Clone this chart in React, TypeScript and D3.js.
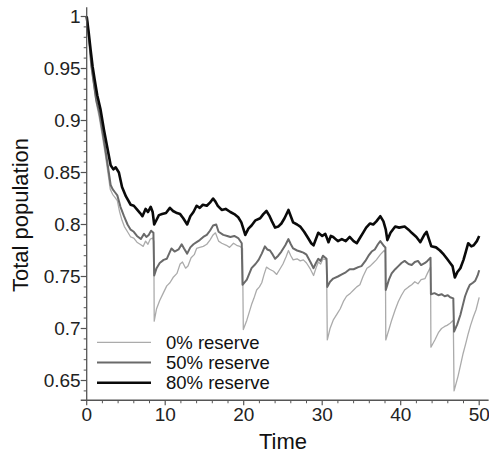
import React from "react";
import * as d3 from "d3";

type Pt = [number, number];

const reserve0: Pt[] = [
  [0, 1.0], [0.3, 0.978], [0.6, 0.952], [0.9, 0.935], [1.2, 0.918], [1.6, 0.903], [2.0, 0.885],
  [2.4, 0.866], [2.7, 0.85], [3.0, 0.834], [3.3, 0.829], [3.6, 0.826], [3.9, 0.823], [4.2, 0.812],
  [4.5, 0.804], [4.8, 0.798], [5.2, 0.793], [5.6, 0.788], [6.0, 0.787], [6.4, 0.783], [6.8, 0.781],
  [7.2, 0.779], [7.5, 0.784], [7.8, 0.781], [8.1, 0.786], [8.4, 0.787], [8.55, 0.784], [8.6, 0.707],
  [8.9, 0.719], [9.3, 0.727], [9.75, 0.734], [10.2, 0.741], [10.6, 0.744], [11.0, 0.749], [11.5, 0.753],
  [11.9, 0.762], [12.2, 0.764], [12.6, 0.758], [12.9, 0.76], [13.3, 0.768], [13.7, 0.771], [14.0, 0.777],
  [14.4, 0.778], [14.85, 0.779], [15.3, 0.781], [15.7, 0.785], [16.1, 0.79], [16.4, 0.792], [16.8, 0.784],
  [17.2, 0.782], [17.8, 0.78], [18.2, 0.778], [18.7, 0.782], [19.1, 0.78], [19.5, 0.779], [19.85, 0.777],
  [19.95, 0.699], [20.4, 0.708], [21.0, 0.723], [21.3, 0.729], [21.65, 0.737], [22.0, 0.74], [22.3, 0.744],
  [22.6, 0.752], [22.9, 0.759], [23.3, 0.757], [23.8, 0.755], [24.2, 0.752], [24.6, 0.757], [25.0, 0.762],
  [25.4, 0.769], [25.7, 0.775], [26.0, 0.77], [26.3, 0.766], [26.8, 0.767], [27.2, 0.765], [27.6, 0.766],
  [28.0, 0.763], [28.5, 0.757], [28.9, 0.751], [29.2, 0.758], [29.5, 0.764], [29.8, 0.762], [30.1, 0.767],
  [30.55, 0.766], [30.65, 0.689], [31.0, 0.7], [31.4, 0.708], [31.9, 0.714], [32.3, 0.719], [32.7, 0.726],
  [33.1, 0.731], [33.6, 0.734], [34.0, 0.737], [34.4, 0.74], [34.8, 0.742], [35.2, 0.75], [35.7, 0.758],
  [36.1, 0.76], [36.5, 0.763], [36.9, 0.766], [37.4, 0.771], [37.9, 0.775], [38.05, 0.773], [38.1, 0.689],
  [38.5, 0.699], [38.85, 0.708], [39.3, 0.718], [39.7, 0.726], [40.1, 0.732], [40.5, 0.737], [41.0, 0.74],
  [41.4, 0.742], [41.8, 0.745], [42.2, 0.743], [42.6, 0.747], [43.1, 0.748], [43.4, 0.753], [43.8, 0.759],
  [43.85, 0.682], [44.35, 0.689], [44.8, 0.696], [45.2, 0.7], [45.6, 0.702], [45.9, 0.703], [46.3, 0.705],
  [46.7, 0.708], [46.8, 0.64], [47.3, 0.654], [47.6, 0.664], [47.95, 0.676], [48.3, 0.686], [48.6, 0.695],
  [48.9, 0.703], [49.25, 0.711], [49.6, 0.718], [50.0, 0.73],
];

const reserve50: Pt[] = [
  [0, 1.0], [0.3, 0.978], [0.6, 0.952], [0.9, 0.936], [1.2, 0.92], [1.6, 0.908], [2.0, 0.89],
  [2.3, 0.876], [2.7, 0.856], [3.05, 0.838], [3.3, 0.834], [3.6, 0.831], [3.9, 0.828], [4.3, 0.817],
  [4.75, 0.808], [5.2, 0.8], [5.6, 0.795], [6.0, 0.793], [6.4, 0.789], [6.9, 0.786], [7.3, 0.791],
  [7.6, 0.788], [7.9, 0.79], [8.2, 0.794], [8.5, 0.792], [8.6, 0.751], [8.9, 0.758], [9.3, 0.763],
  [9.8, 0.766], [10.2, 0.767], [10.5, 0.772], [10.8, 0.777], [11.2, 0.774], [11.7, 0.776], [12.1, 0.781],
  [12.4, 0.777], [12.8, 0.772], [13.2, 0.778], [13.6, 0.781], [14.0, 0.783], [14.4, 0.785], [14.85, 0.788],
  [15.3, 0.79], [15.7, 0.794], [16.1, 0.799], [16.5, 0.8], [16.8, 0.793], [17.4, 0.79], [17.9, 0.789],
  [18.3, 0.788], [18.8, 0.789], [19.3, 0.787], [19.75, 0.782], [19.85, 0.742], [20.4, 0.747], [21.0, 0.758],
  [21.5, 0.762], [21.9, 0.766], [22.3, 0.772], [22.7, 0.779], [23.0, 0.776], [23.35, 0.775], [23.7, 0.771],
  [24.0, 0.767], [24.4, 0.77], [24.8, 0.774], [25.3, 0.78], [25.7, 0.786], [26.0, 0.781], [26.3, 0.777],
  [26.8, 0.775], [27.2, 0.774], [27.6, 0.773], [28.0, 0.771], [28.5, 0.764], [28.9, 0.758], [29.2, 0.763],
  [29.5, 0.767], [29.8, 0.765], [30.1, 0.77], [30.55, 0.767], [30.65, 0.74], [31.0, 0.745], [31.4, 0.748],
  [32.0, 0.75], [32.5, 0.752], [33.0, 0.754], [33.5, 0.757], [34.0, 0.757], [34.6, 0.759], [35.0, 0.76],
  [35.5, 0.765], [35.9, 0.77], [36.3, 0.774], [36.7, 0.776], [37.1, 0.781], [37.4, 0.784], [37.9, 0.779],
  [38.05, 0.778], [38.1, 0.737], [38.5, 0.747], [38.85, 0.753], [39.3, 0.757], [39.7, 0.76], [40.1, 0.763],
  [40.5, 0.765], [41.0, 0.762], [41.4, 0.761], [41.8, 0.764], [42.2, 0.765], [42.6, 0.761], [43.1, 0.763],
  [43.4, 0.765], [43.8, 0.768], [43.85, 0.733], [44.3, 0.734], [44.8, 0.732], [45.2, 0.733], [45.6, 0.731],
  [46.0, 0.732], [46.3, 0.73], [46.7, 0.729], [46.8, 0.697], [47.2, 0.704], [47.6, 0.713], [47.9, 0.722],
  [48.2, 0.731], [48.5, 0.737], [48.8, 0.742], [49.2, 0.744], [49.5, 0.746], [49.8, 0.751], [50.0, 0.756],
];

const reserve80: Pt[] = [
  [0, 1.0], [0.25, 0.985], [0.5, 0.968], [0.75, 0.952], [1.0, 0.94], [1.35, 0.924], [1.75, 0.911],
  [2.2, 0.891], [2.6, 0.875], [3.05, 0.857], [3.4, 0.853], [3.7, 0.855], [4.1, 0.85], [4.5, 0.836],
  [5.0, 0.827], [5.6, 0.819], [6.0, 0.818], [6.45, 0.814], [6.8, 0.811], [7.1, 0.808], [7.5, 0.815],
  [7.8, 0.812], [8.15, 0.817], [8.4, 0.812], [8.6, 0.8], [9.0, 0.806], [9.2, 0.809], [9.6, 0.81],
  [10.1, 0.811], [10.6, 0.816], [11.0, 0.813], [11.5, 0.811], [11.9, 0.81], [12.3, 0.806], [12.8, 0.8],
  [13.2, 0.808], [13.6, 0.812], [14.0, 0.818], [14.4, 0.816], [14.8, 0.819], [15.3, 0.818], [15.7, 0.821],
  [16.1, 0.825], [16.4, 0.822], [16.7, 0.818], [17.2, 0.814], [17.7, 0.815], [18.3, 0.812], [18.8, 0.81],
  [19.3, 0.807], [19.7, 0.802], [20.2, 0.79], [20.6, 0.796], [21.0, 0.799], [21.5, 0.804], [22.1, 0.806],
  [22.5, 0.81], [22.9, 0.813], [23.3, 0.808], [23.6, 0.803], [24.0, 0.797], [24.4, 0.798], [24.8, 0.801],
  [25.2, 0.806], [25.7, 0.814], [26.0, 0.808], [26.3, 0.802], [26.8, 0.8], [27.2, 0.798], [27.7, 0.793],
  [28.2, 0.787], [28.6, 0.782], [28.9, 0.78], [29.2, 0.786], [29.5, 0.792], [30.0, 0.789], [30.4, 0.791],
  [30.8, 0.783], [31.1, 0.789], [31.4, 0.788], [32.0, 0.784], [32.5, 0.786], [33.0, 0.784], [33.5, 0.788],
  [34.0, 0.784], [34.4, 0.782], [34.8, 0.787], [35.2, 0.792], [35.6, 0.797], [36.1, 0.801], [36.5, 0.8],
  [36.9, 0.803], [37.4, 0.808], [37.8, 0.803], [38.1, 0.795], [38.3, 0.785], [38.7, 0.792], [39.3, 0.798],
  [39.8, 0.797], [40.5, 0.798], [41.0, 0.795], [41.4, 0.792], [42.0, 0.788], [42.5, 0.783], [43.0, 0.79],
  [43.3, 0.793], [43.6, 0.786], [43.9, 0.779], [44.5, 0.778], [45.0, 0.775], [45.5, 0.771], [45.9, 0.767],
  [46.3, 0.763], [46.6, 0.76], [46.9, 0.749], [47.2, 0.754], [47.6, 0.758], [48.0, 0.766], [48.3, 0.774],
  [48.6, 0.782], [49.0, 0.779], [49.3, 0.78], [49.7, 0.784], [50.0, 0.789],
];

const seriesNames = ["0% reserve", "50% reserve", "80% reserve"];
const seriesData = [reserve0, reserve50, reserve80];
const seriesColors = ["#ababab", "#6a6a6a", "#0a0a0a"];
const seriesWidths = [1.3, 2, 2.6];

const xMajorTicks = [0, 10, 20, 30, 40, 50];
const yMajorTicks = [0.65, 0.7, 0.75, 0.8, 0.85, 0.9, 0.95, 1];

const W = 489;
const H = 455;
const FONT = "'Liberation Sans', Arial, Helvetica, sans-serif";

export default function App() {
  const x = d3.scaleLinear().domain([0, 50]).range([86.7, 479.2]);
  const y = d3.scaleLinear().domain([0.65, 1]).range([380.5, 16.5]);
  const line = d3
    .line<Pt>()
    .x((d) => x(d[0]))
    .y((d) => y(d[1]));

  const xMinor = d3.range(0, 51, 2).filter((t) => t % 10 !== 0);
  const yMinor = d3.range(64, 101, 1).map((v) => v / 100).filter((v) => Math.round(v * 100) % 5 !== 0);

  const x0 = x(0);
  const yBottom = y(0.631);
  const yTop = y(1.009);
  const xLeft = x(-0.76);
  const xRight = x(51.2);
  const axisColor = "#555";

  return (
    <svg
      width={W}
      height={H}
      style={{ position: "absolute", left: 0, top: 0, background: "#fff" }}
      fontFamily={FONT}
    >
      <rect width={W} height={H} fill="#fff" />
      {/* series */}
      {seriesData.map((d, i) => (
        <path
          key={seriesNames[i]}
          d={line(d) || ""}
          fill="none"
          stroke={seriesColors[i]}
          strokeWidth={seriesWidths[i]}
          strokeLinejoin="round"
        />
      ))}
      {/* axes */}
      <line x1={x0} x2={x0} y1={yTop} y2={yBottom} stroke={axisColor} strokeWidth={1.3} />
      <line x1={xLeft} x2={xRight} y1={yBottom} y2={yBottom} stroke={axisColor} strokeWidth={1.3} />
      {yMajorTicks.map((v) => (
        <g key={"ym" + v}>
          <line x1={x0 - 6} x2={x0} y1={y(v)} y2={y(v)} stroke={axisColor} strokeWidth={1.2} />
          <text x={x0 - 6} y={y(v)} dy="0.36em" textAnchor="end" fontSize={19} fill="#222">
            {d3.format("")(v)}
          </text>
        </g>
      ))}
      {yMinor.map((v) => (
        <line key={"yn" + v} x1={x0 - 3} x2={x0} y1={y(v)} y2={y(v)} stroke={axisColor} strokeWidth={1} />
      ))}
      {xMajorTicks.map((t) => (
        <g key={"xm" + t}>
          <line x1={x(t)} x2={x(t)} y1={yBottom} y2={yBottom + 5} stroke={axisColor} strokeWidth={1.2} />
          <text x={x(t)} y={420.7} textAnchor="middle" fontSize={19} fill="#222">
            {t}
          </text>
        </g>
      ))}
      {xMinor.map((t) => (
        <line key={"xn" + t} x1={x(t)} x2={x(t)} y1={yBottom} y2={yBottom + 3} stroke={axisColor} strokeWidth={1} />
      ))}
      {/* axis titles */}
      <text x={283} y={449} textAnchor="middle" fontSize={22} fill="#111">
        Time
      </text>
      <text
        transform={`translate(28,215) rotate(-90)`}
        textAnchor="middle"
        fontSize={22}
        fill="#111"
      >
        Total population
      </text>
      {/* legend */}
      {seriesNames.map((name, i) => {
        const ly = 342.3 + i * 20.2;
        return (
          <g key={"lg" + name}>
            <line x1={97} x2={151} y1={ly} y2={ly} stroke={seriesColors[i]} strokeWidth={seriesWidths[i]} />
            <text x={166} y={ly} dy="0.36em" fontSize={18.5} fill="#111">
              {name}
            </text>
          </g>
        );
      })}
    </svg>
  );
}
